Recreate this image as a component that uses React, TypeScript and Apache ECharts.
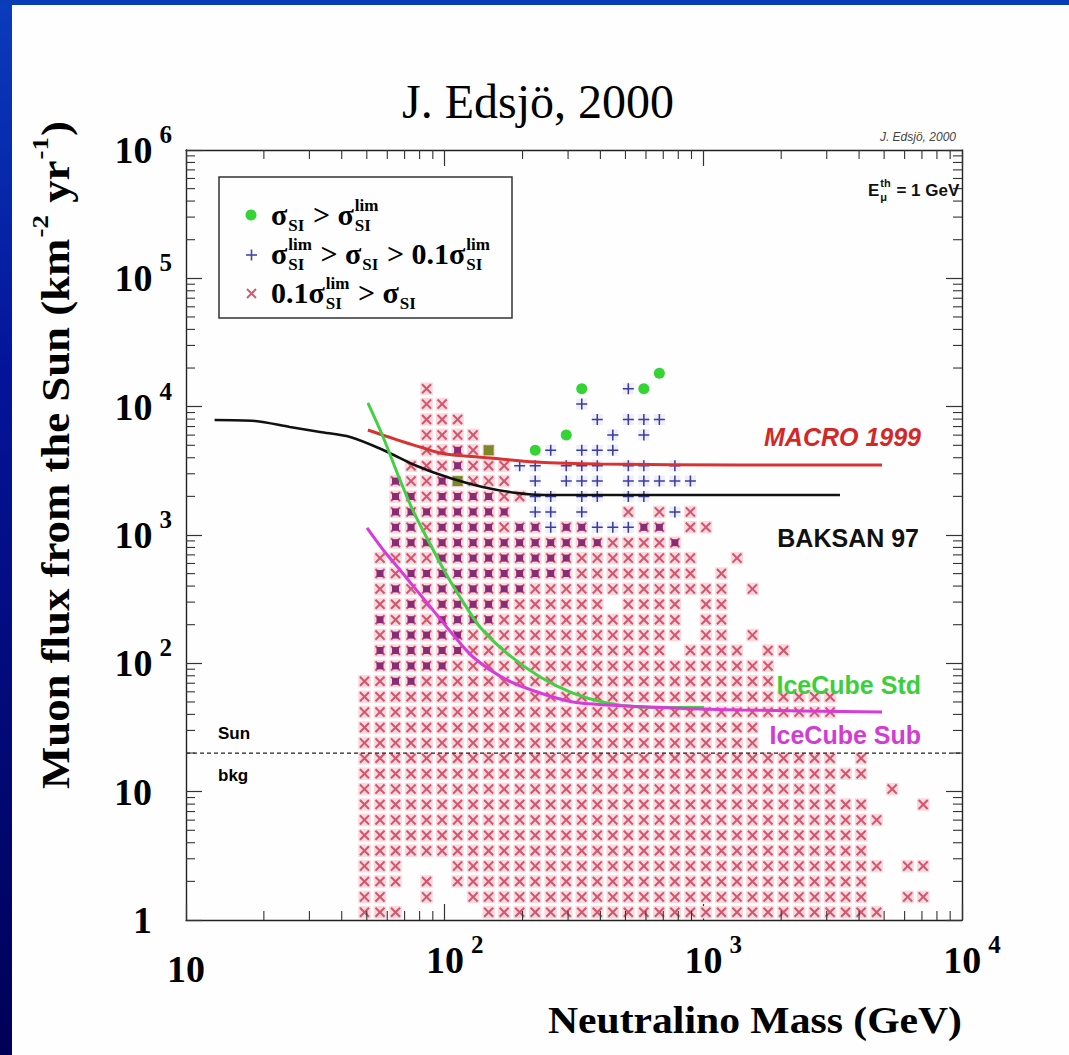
import React, { useEffect, useRef } from "react";
import * as echarts from "echarts";

// ---- axis ranges ----
const MASS_MIN = 10;
const MASS_MAX = 10000;
const FLUX_MIN = 1;
const FLUX_MAX = 1e6;

// ---- scan binning (log10 space) ----
const MASS_BIN_LOG0 = 1; // log10(10 GeV)
const MASS_BIN_DEX = 0.06;
const FLUX_BIN_LOG0 = 0;
const FLUX_BIN_DEX = 0.12;

// Occupied bins per flux row j: "a-bK" = mass bins a..b of kind K
// x: 0.1σlim > σ   +: σlim > σ > 0.1σlim   p: both of those
// o: σ > σlim      g: σ > σlim together with 0.1σlim > σ
const SCAN_ROWS: [number, string][] = [
  [35, "30o"],
  [34, "15x 25o 28+ 29o"],
  [33, "15-16x 25+"],
  [32, "15-17x 26+ 28-30+"],
  [31, "15-18x 24o 27+ 29+"],
  [30, "15-16x 17p 18x 19g 22o 23+ 25-27+"],
  [29, "14-16x 17p 18-20x 21-22+ 24-26+ 28-29+ 31+"],
  [28, "13p 14-15x 16p 17g 18-20x 22+ 24-26+ 28-32+"],
  [27, "13-14p 15x 16-19p 20-21x 22-23+ 25-26+ 28-29+"],
  [26, "13-20p 22-23+ 25+ 28x 30x 31+ 32x"],
  [25, "13-14p 15x 16-19p 20x 21-22p 23+ 24-25p 26-28+ 29-30p 32-33x"],
  [24, "13-26p 27-30x 31p"],
  [23, "12-15x 16-24p 25-32x 35x"],
  [22, "12p 13x 14-24p 25-32x 34x"],
  [21, "12x 13p 14x 15-21p 22-34x 36x"],
  [20, "12-13x 14p 15x 16-20p 21-26x 28-31x 33-34x"],
  [19, "12p 13x 14p 15x 16-19p 20-31x 33-34x"],
  [18, "12x 13-17p 18-31x 33-34x 36x"],
  [17, "12-17p 18-30x 32-35x 37-38x"],
  [16, "12-16p 17-37x"],
  [15, "11-12x 13-14p 15-37x"],
  [14, "11-41x"],
  [13, "11-41x"],
  [12, "11-36x"],
  [11, "11-36x"],
  [10, "11-41x 43x"],
  [9, "11-43x"],
  [8, "11-41x 45x"],
  [7, "11-43x 47x"],
  [6, "11-44x"],
  [5, "11-43x"],
  [4, "11-43x"],
  [3, "11-13x 17-44x 46-47x"],
  [2, "11-13x 15x 17-43x"],
  [1, "11-12x 15x 18-43x 46-47x"],
  [0, "11-13x 19-44x"],
];

// ---- limit curves (GeV, km^-2 yr^-1) ----
const MACRO_MASS = [50.5, 60, 71.5, 83, 95.9, 120, 149.7, 223.5, 398.6, 1386, 4906];
const MACRO_FLUX = [6580, 5850, 5210, 4750, 4360, 4120, 3980, 3710, 3575, 3510, 3510];

const BAKSAN_MASS = [12.9, 18.5, 25.2, 33.0, 43.1, 57.8, 78.1, 104.8, 140.1, 190.4, 244.5, 3375];
const BAKSAN_FLUX = [7870, 7730, 6940, 6350, 5800, 4600, 3450, 2780, 2370, 2125, 2050, 2050];

const ICECUBE_STD_MASS = [50.5, 57.8, 67.2, 76, 86.2, 100, 114.6, 136.9, 174, 234, 313, 424, 569, 1006];
const ICECUBE_STD_FLUX = [10690, 5800, 2680, 1500, 914, 520, 329, 192, 120, 78.3, 58.7, 49.1, 45.7, 45.2];

const ICECUBE_SUB_MASS = [50.1, 58, 67.2, 78, 90.1, 107, 128.7, 174, 234, 313, 424, 763, 1386, 4906];
const ICECUBE_SUB_FLUX = [1134, 760, 534, 370, 260, 170, 112, 74.2, 58.7, 50.0, 47.4, 44.9, 43.3, 41.8];

const SUN_BKG_FLUX = 20;

// minor tick multipliers inside each decade
const MINOR_STEPS = [2, 3, 4, 5, 6, 7, 8, 9];
const MASS_DECADES = [10, 100, 1000];
const FLUX_DECADES = [1, 10, 100, 1000, 10000, 100000];

// ---- helpers ----
type Cell = { i: number; j: number; kind: string };

function parseScan(): Cell[] {
  const out: Cell[] = [];
  for (const [j, spec] of SCAN_ROWS) {
    for (const tok of spec.trim().split(/\s+/)) {
      const m = tok.match(/^(\d+)(?:-(\d+))?([xp+og])$/);
      if (!m) continue;
      const a = +m[1];
      const b = m[2] ? +m[2] : a;
      for (let i = a; i <= b; i++) out.push({ i, j, kind: m[3] });
    }
  }
  return out;
}

const binMass = (i: number) => Math.pow(10, MASS_BIN_LOG0 + (i + 0.5) * MASS_BIN_DEX);
const binFlux = (j: number) => Math.pow(10, FLUX_BIN_LOG0 + (j + 0.5) * FLUX_BIN_DEX);

const zip = (xs: number[], ys: number[]) => xs.map((x, k) => [x, ys[k]]);

const SERIF = '"Liberation Serif", "Times New Roman", serif';
const SANS = '"Liberation Sans", Arial, Helvetica, sans-serif';

let measureCtx: CanvasRenderingContext2D | null = null;
function measure(text: string, size: number, family: string, weight: string, style = "normal") {
  if (!measureCtx) measureCtx = document.createElement("canvas").getContext("2d");
  if (!measureCtx) return text.length * size * 0.5;
  measureCtx.font = `${style} ${weight} ${size}px ${family}`;
  return measureCtx.measureText(text).width;
}

type Piece = { t?: string; sub?: string; sup?: string };
type MathFont = {
  size: number;
  script: number;
  family: string;
  weight: string;
  color: string;
  subDy: number;
  supDy: number;
};

function textEl(
  s: string,
  x: number,
  y: number,
  size: number,
  f: { family: string; weight: string; color: string },
  align = "left",
  style = "normal"
) {
  return {
    type: "text",
    x,
    y,
    z: 100,
    silent: true,
    style: {
      text: s,
      fontSize: size,
      fontFamily: f.family,
      fontWeight: f.weight,
      fontStyle: style,
      fill: f.color,
      align,
      verticalAlign: "middle",
      textAlign: align,
      textVerticalAlign: "middle",
    },
  };
}

function mathText(x0: number, yc: number, pieces: Piece[], f: MathFont) {
  const els: any[] = [];
  let x = x0;
  for (const p of pieces) {
    if (p.t) {
      els.push(textEl(p.t, x, yc, f.size, f));
      x += measure(p.t, f.size, f.family, f.weight);
    }
    let w = 0;
    if (p.sub) {
      els.push(textEl(p.sub, x + 1, yc + f.subDy, f.script, f));
      w = Math.max(w, measure(p.sub, f.script, f.family, f.weight));
    }
    if (p.sup) {
      els.push(textEl(p.sup, x + 1, yc + f.supDy, f.script, f));
      w = Math.max(w, measure(p.sup, f.script, f.family, f.weight));
    }
    if (w) x += w + 2;
  }
  return { els, width: x - x0 };
}

function buildOption() {
  const cells = parseScan();
  const pick = (kinds: string) =>
    cells.filter((c) => kinds.includes(c.kind)).map((c) => [binMass(c.i), binFlux(c.j)]);

  const crossPath =
    "path://M0,1.4 L1.4,0 L5,3.6 L8.6,0 L10,1.4 L6.4,5 L10,8.6 L8.6,10 L5,6.4 L1.4,10 L0,8.6 L3.6,5 Z";
  const plusPath = "path://M4.3,0 H5.7 V4.3 H10 V5.7 H5.7 V10 H4.3 V5.7 H0 V4.3 H4.3 Z";

  const minorX: number[][] = [];
  for (const d of MASS_DECADES) for (const s of MINOR_STEPS) minorX.push([d * s, FLUX_MIN]);
  const minorY: number[][] = [];
  for (const d of FLUX_DECADES) for (const s of MINOR_STEPS) minorY.push([MASS_MIN, d * s]);

  const tickLine = { color: "#333", width: 1.2 };
  const richLabels = {
    b: { fontFamily: SERIF, fontWeight: "bold", fontSize: 38, color: "#000", lineHeight: 38, verticalAlign: "bottom" },
    s: {
      fontFamily: SERIF,
      fontWeight: "bold",
      fontSize: 25,
      color: "#000",
      lineHeight: 25,
      padding: [0, 0, 22, 7],
      verticalAlign: "bottom",
    },
    gap: { width: 20 },
    h: { width: 0, height: 47 },
  };
  const expOf = (v: number) => Math.round(Math.log10(v));

  const xAxisBase = {
    type: "log",
    logBase: 10,
    min: MASS_MIN,
    max: MASS_MAX,
    splitNumber: 3,
    splitLine: { show: false },
    axisLine: { show: true, onZero: false, lineStyle: { color: "#222", width: 1.4 } },
    axisTick: { show: true, inside: true, length: 16, lineStyle: tickLine },
  };
  const yAxisBase = {
    type: "log",
    logBase: 10,
    min: FLUX_MIN,
    max: FLUX_MAX,
    splitNumber: 6,
    splitLine: { show: false },
    axisLine: { show: true, onZero: false, lineStyle: { color: "#222", width: 1.4 } },
    axisTick: { show: true, inside: true, length: 16, lineStyle: tickLine },
  };

  // legend entries
  const legFont: MathFont = {
    size: 30,
    script: 17,
    family: SERIF,
    weight: "bold",
    color: "#000",
    subDy: 11,
    supDy: -9,
  };
  const sLim = { t: "σ", sub: "SI", sup: "lim" };
  const sSI = { t: "σ", sub: "SI" };
  const leg1 = mathText(271, 214, [sSI, { t: " > " }, sLim], legFont);
  const leg2 = mathText(271, 253, [sLim, { t: " > " }, sSI, { t: " > 0.1" }, sLim], legFont);
  const leg3 = mathText(271, 292, [{ t: "0.1" }, sLim, { t: " > " }, sSI], legFont);

  // threshold label
  const eFont: MathFont = {
    size: 17,
    script: 11,
    family: SANS,
    weight: "bold",
    color: "#111",
    subDy: 7,
    supDy: -7,
  };
  const eLab = mathText(868, 190, [{ t: "E", sub: "μ", sup: "th" }, { t: " = 1 GeV" }], eFont);

  // y-axis title (rotated, stretched along its length)
  const yTitleFont: MathFont = {
    size: 40,
    script: 24,
    family: SERIF,
    weight: "bold",
    color: "#000",
    subDy: 12,
    supDy: -15,
  };
  const yPieces: Piece[] = [
    { t: "Muon flux from the Sun (km", sup: "-2" },
    { t: " yr", sup: "-1" },
    { t: ")" },
  ];
  const yW = mathText(0, 0, yPieces, yTitleFont).width;
  const yTitle = mathText(-yW / 2, 0, yPieces, yTitleFont);
  const yStretch = 668 / yW;

  const xTitleW = measure("Neutralino Mass (GeV)", 38, SERIF, "bold");
  const xStretch = 414 / xTitleW;

  const sansBold = { family: SANS, weight: "bold", color: "#000" };

  const graphic: any[] = [
    // slide frame
    {
      type: "rect",
      shape: { x: 0, y: 0, width: 12, height: 1055 },
      z: 0,
      silent: true,
      style: {
        fill: new echarts.graphic.LinearGradient(0, 0, 0, 1, [
          { offset: 0, color: "#0a3cbc" },
          { offset: 0.35, color: "#04149a" },
          { offset: 1, color: "#000058" },
        ]),
      },
    },
    {
      type: "rect",
      shape: { x: 0, y: 0, width: 1069, height: 5 },
      z: 0,
      silent: true,
      style: { fill: "#0a3cb8" },
    },
    // title
    textEl("J. Edsjö, 2000", 538, 101, 48, { family: SERIF, weight: "normal", color: "#000" }, "center"),
    textEl("J. Edsjö, 2000", 956, 137, 12, { family: SANS, weight: "normal", color: "#444" }, "right", "italic"),
    // legend box
    {
      type: "rect",
      z: 99,
      silent: true,
      shape: { x: 219, y: 177, width: 293, height: 141 },
      style: { fill: "rgba(255,255,255,0)", stroke: "#333", lineWidth: 1.5 },
    },
    { type: "circle", z: 100, silent: true, shape: { cx: 251, cy: 215, r: 5.5 }, style: { fill: "#33d433" } },
    { type: "line", z: 100, silent: true, shape: { x1: 246, y1: 255, x2: 257, y2: 255 }, style: { stroke: "#4646a8", lineWidth: 1.6 } },
    { type: "line", z: 100, silent: true, shape: { x1: 251.5, y1: 249.5, x2: 251.5, y2: 260.5 }, style: { stroke: "#4646a8", lineWidth: 1.6 } },
    { type: "line", z: 100, silent: true, shape: { x1: 247, y1: 289, x2: 256, y2: 298 }, style: { stroke: "#d45a72", lineWidth: 2 } },
    { type: "line", z: 100, silent: true, shape: { x1: 256, y1: 289, x2: 247, y2: 298 }, style: { stroke: "#d45a72", lineWidth: 2 } },
    ...leg1.els,
    ...leg2.els,
    ...leg3.els,
    ...eLab.els,
    // curve labels
    textEl("MACRO 1999", 921, 437, 25, { family: SANS, weight: "bold", color: "#d42828" }, "right", "italic"),
    textEl("BAKSAN 97", 919, 538, 25, { family: SANS, weight: "bold", color: "#111" }, "right"),
    textEl("IceCube Std", 921, 685, 25, { family: SANS, weight: "bold", color: "#3ccf3c" }, "right"),
    textEl("IceCube Sub", 921, 735, 25, { family: SANS, weight: "bold", color: "#d23cd2" }, "right"),
    textEl("Sun", 218, 733, 17, sansBold),
    textEl("bkg", 218, 775, 17, sansBold),
    // axis titles
    {
      type: "group",
      x: 962,
      y: 1020,
      scaleX: xStretch,
      z: 100,
      children: [textEl("Neutralino Mass (GeV)", 0, 0, 38, { family: SERIF, weight: "bold", color: "#000" }, "right")],
    },
    { type: "group", x: 55, y: 455, rotation: Math.PI / 2, scaleX: yStretch, z: 100, children: yTitle.els },
  ];

  const scatter = (name: string, data: number[][], symbol: string, size: number, color: string, z: number) => ({
    name,
    type: "scatter",
    data,
    symbol,
    symbolSize: size,
    itemStyle: { color, opacity: 1 },
    silent: true,
    z,
  });

  const curve = (name: string, xs: number[], ys: number[], color: string, width: number) => ({
    name,
    type: "line",
    data: zip(xs, ys),
    showSymbol: false,
    smooth: 0.3,
    lineStyle: { color, width },
    silent: true,
    z: 6,
  });

  return {
    animation: false,
    backgroundColor: "#fefefe",
    grid: { left: 186, top: 150, width: 776, height: 770, show: false },
    xAxis: [
      {
        ...xAxisBase,
        position: "bottom",
        axisLabel: {
          margin: 21,
          showMinLabel: true,
          showMaxLabel: true,
          formatter: (v: number) => {
            const e = expOf(v);
            if (e === 1) return "{b|10}{h|}";
            return `{gap|}{b|10}{s|${e}}`;
          },
          rich: richLabels,
        },
      },
      { ...xAxisBase, position: "top", axisLabel: { show: false } },
    ],
    yAxis: [
      {
        ...yAxisBase,
        position: "left",
        axisLabel: {
          margin: 14,
          showMinLabel: true,
          showMaxLabel: true,
          formatter: (v: number) => {
            const e = expOf(v);
            if (e === 0) return "{b|1}{gap|}";
            if (e === 1) return "{b|10}{gap|}";
            return `{b|10}{s|${e}}`;
          },
          rich: richLabels,
        },
      },
      { ...yAxisBase, position: "right", axisLabel: { show: false } },
    ],
    graphic,
    series: [
      scatter("halo-red", pick("xpg"), "rect", 12.5, "#f9d9de", 1),
      scatter("halo-blue", pick("+"), "rect", 11, "#efeff9", 1),
      scatter("0.1σlim > σ", pick("xpg"), crossPath, 10.5, "#d2566e", 2),
      scatter("σlim > σ > 0.1σlim", pick("+"), plusPath, 11, "#3b3ba6", 3),
      scatter("both", pick("p"), "rect", 7, "#8a2b76", 3),
      scatter("σ > σlim", pick("o"), "circle", 11, "#33d433", 3),
      scatter("σ > σlim (x)", pick("g"), "rect", 10, "#7b8a26", 3),
      {
        name: "Sun bkg",
        type: "line",
        data: [
          [MASS_MIN, SUN_BKG_FLUX],
          [MASS_MAX, SUN_BKG_FLUX],
        ],
        showSymbol: false,
        lineStyle: { color: "#222", width: 1.3, type: [4, 3] },
        silent: true,
        z: 5,
      },
      curve("MACRO 1999", MACRO_MASS, MACRO_FLUX, "#d83232", 3),
      curve("BAKSAN 97", BAKSAN_MASS, BAKSAN_FLUX, "#111111", 2.6),
      curve("IceCube Std", ICECUBE_STD_MASS, ICECUBE_STD_FLUX, "#44d044", 3),
      curve("IceCube Sub", ICECUBE_SUB_MASS, ICECUBE_SUB_FLUX, "#d83cd8", 3),
      {
        name: "minor-x",
        type: "custom",
        silent: true,
        z: 7,
        data: minorX,
        renderItem: (_p: any, api: any) => {
          const v = api.value(0);
          const b = api.coord([v, FLUX_MIN]);
          const t = api.coord([v, FLUX_MAX]);
          const st = { stroke: "#333", lineWidth: 1.1 };
          return {
            type: "group",
            children: [
              { type: "line", shape: { x1: b[0], y1: b[1], x2: b[0], y2: b[1] - 9 }, style: st },
              { type: "line", shape: { x1: t[0], y1: t[1], x2: t[0], y2: t[1] + 9 }, style: st },
            ],
          };
        },
      },
      {
        name: "minor-y",
        type: "custom",
        silent: true,
        z: 7,
        data: minorY,
        renderItem: (_p: any, api: any) => {
          const v = api.value(1);
          const l = api.coord([MASS_MIN, v]);
          const r = api.coord([MASS_MAX, v]);
          const st = { stroke: "#333", lineWidth: 1.1 };
          return {
            type: "group",
            children: [
              { type: "line", shape: { x1: l[0], y1: l[1], x2: l[0] + 9, y2: l[1] }, style: st },
              { type: "line", shape: { x1: r[0], y1: r[1], x2: r[0] - 9, y2: r[1] }, style: st },
            ],
          };
        },
      },
    ],
  };
}

export default function App() {
  const ref = useRef<HTMLDivElement>(null);
  useEffect(() => {
    if (!ref.current) return;
    const chart = echarts.init(ref.current, null, { renderer: "svg" });
    chart.setOption(buildOption() as any);
    return () => chart.dispose();
  }, []);
  return (
    <div
      ref={ref}
      style={{ position: "fixed", left: 0, top: 0, width: 1069, height: 1055, background: "#fefefe" }}
    />
  );
}
